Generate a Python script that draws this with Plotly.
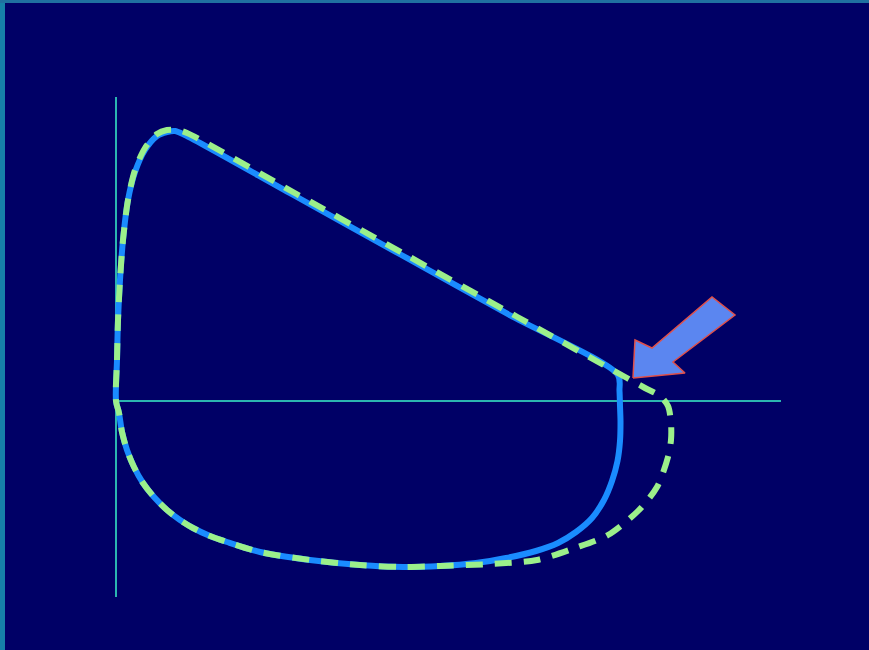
import plotly.graph_objects as go

# Flow-volume loop data (volume in L, flow in L/s)
normal_volume = [0, 0.01, 0.02, 0.04, 0.07, 0.12, 0.19, 0.29, 0.41, 0.51, 0.59, 0.67,
                 1.76, 2.845, 3.93,
                 5.02, 5.035, 5.04, 5.045, 5.04, 5.015, 4.96, 4.88, 4.76, 4.60,
                 4.42, 4.20, 3.90, 3.60, 3.24, 2.87, 2.44, 1.94, 1.44, 1.11, 0.94, 0.77,
                 0.64, 0.51, 0.38, 0.27, 0.18, 0.11, 0.06, 0.03, 0]
normal_flow = [0, 0.82, 1.62, 2.42, 3.22, 4.02, 4.58, 5.02, 5.30, 5.38, 5.40, 5.34,
               4.135, 2.93, 1.725,
               0.52, 0.20, -0.10, -0.40, -0.80, -1.20, -1.60, -1.98, -2.34, -2.62,
               -2.84, -3.00, -3.14, -3.24, -3.30, -3.32, -3.28, -3.18, -3.02, -2.82, -2.70, -2.54,
               -2.38, -2.18, -1.92, -1.64, -1.32, -0.98, -0.62, -0.24, 0]

trapped_volume = [0, 0.01, 0.02, 0.04, 0.07, 0.12, 0.19, 0.29, 0.41, 0.51, 0.61, 0.71,
                  1.81, 2.91, 4.01,
                  5.11, 5.29, 5.44, 5.52, 5.55, 5.55, 5.52, 5.41, 5.22, 4.92, 4.59, 4.21,
                  3.74, 3.24, 2.87, 2.44, 1.94, 1.44, 1.11, 0.94, 0.77,
                  0.64, 0.51, 0.38, 0.27, 0.18, 0.11, 0.06, 0.03, 0]
trapped_flow = [0, 0.82, 1.62, 2.42, 3.22, 4.02, 4.62, 5.06, 5.34, 5.42, 5.42, 5.36,
                4.135, 2.91, 1.685,
                0.46, 0.26, 0.10, -0.10, -0.44, -0.78, -1.12, -1.72, -2.20, -2.68, -2.94, -3.18,
                -3.26, -3.30, -3.32, -3.28, -3.18, -3.02, -2.82, -2.70, -2.54,
                -2.38, -2.18, -1.92, -1.64, -1.32, -0.98, -0.62, -0.24, 0]

arrow_volume = [5.17, 5.19, 5.36, 5.96, 6.19, 5.57, 5.69, 5.17]
arrow_flow = [0.46, 1.22, 1.06, 2.08, 1.72, 0.78, 0.56, 0.46]

axis_flow_extent = [-3.92, 6.08]
axis_volume_extent = [0, 6.65]

AXIS_COLOR = "#2bb5b0"
BG = "#000066"

fig = go.Figure()
fig.add_trace(go.Scatter(x=[0, 0], y=axis_flow_extent, mode="lines",
                         line=dict(color=AXIS_COLOR, width=2), hoverinfo="skip"))
fig.add_trace(go.Scatter(x=axis_volume_extent, y=[0, 0], mode="lines",
                         line=dict(color=AXIS_COLOR, width=2), hoverinfo="skip"))
fig.add_trace(go.Scatter(x=normal_volume, y=normal_flow, mode="lines",
                         line=dict(color="#1a8cff", width=6, shape="spline", smoothing=0.8)))
fig.add_trace(go.Scatter(x=trapped_volume, y=trapped_flow, mode="lines",
                         line=dict(color="#9cf08a", width=6, dash="17px,12px",
                                   shape="spline", smoothing=0.8)))
fig.add_trace(go.Scatter(x=arrow_volume, y=arrow_flow, mode="lines", fill="toself",
                         fillcolor="#5b86f0", line=dict(color="#e0504a", width=1.5),
                         hoverinfo="skip"))

fig.update_layout(
    width=869, height=650,
    margin=dict(l=0, r=0, t=0, b=0),
    paper_bgcolor=BG, plot_bgcolor=BG,
    showlegend=False,
    xaxis=dict(range=[-1.16, 7.53], visible=False, fixedrange=True),
    yaxis=dict(range=[-4.98, 8.02], visible=False, fixedrange=True),
    shapes=[
        dict(type="rect", xref="paper", yref="paper", x0=0, x1=5/869, y0=0, y1=1,
             fillcolor="#1680a8", line=dict(width=0)),
        dict(type="rect", xref="paper", yref="paper", x0=0, x1=1, y0=1-3/650, y1=1,
             fillcolor="#1f70a0", line=dict(width=0)),
    ],
)

fig.write_html("out.html", config={"displayModeBar": False},
               post_script="document.body.style.margin='0';document.body.style.overflow='hidden';")
